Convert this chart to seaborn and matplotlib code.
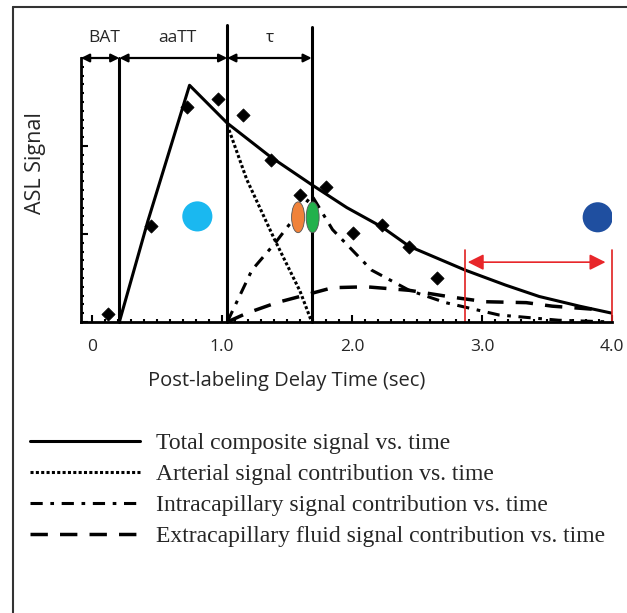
import numpy as np
import pandas as pd
import matplotlib
matplotlib.use("Agg")
import matplotlib.pyplot as plt
import seaborn as sns
from matplotlib.patches import Ellipse
from matplotlib.lines import Line2D
from matplotlib.ticker import MultipleLocator

# ---------------- data ----------------
total_t = [0.21, 0.43, 0.75, 1.04, 1.37, 1.69, 1.96, 2.23, 2.44, 2.87, 3.18, 3.44, 3.75, 4.0]
total_y = [0.0, 1.15, 2.69, 2.26, 1.88, 1.56, 1.30, 1.08, 0.86, 0.59, 0.42, 0.29, 0.18, 0.10]

art_t = [1.04, 1.19, 1.40, 1.60, 1.69]
art_y = [2.24, 1.62, 0.95, 0.35, 0.0]

intra_t = [1.04, 1.23, 1.41, 1.69, 1.85, 2.15, 2.44, 2.72, 3.13, 3.59, 4.0]
intra_y = [0.0, 0.59, 0.90, 1.44, 1.05, 0.59, 0.36, 0.22, 0.08, 0.02, 0.0]

extra_t = [1.04, 1.19, 1.42, 1.65, 1.85, 2.11, 2.44, 2.78, 3.03, 3.34, 3.54, 3.90]
extra_y = [0.0, 0.10, 0.22, 0.31, 0.39, 0.40, 0.36, 0.28, 0.23, 0.22, 0.18, 0.14]

pts_t = [0.12, 0.45, 0.73, 0.97, 1.16, 1.38, 1.60, 1.80, 2.01, 2.23, 2.44, 2.65]
pts_y = [0.09, 1.09, 2.44, 2.53, 2.35, 1.84, 1.44, 1.53, 1.01, 1.10, 0.85, 0.50]

bat, aatt, tau_end = 0.21, 1.04, 1.69
red_start, red_end, red_y = 2.87, 4.0, 0.68

circle_t = [0.81, 3.89]
circle_y = [1.20, 1.19]
circle_colors = ["#1AB8F0", "#1F4FA0"]

ell_t = [1.585, 1.697]
ell_y = [1.19, 1.19]
ell_colors = ["#F0823A", "#22B14C"]

xticks = [0, 1, 2, 3, 4]
xtick_labels = ["0", "1.0", "2.0", "3.0", "4.0"]

legend_labels = ["Total composite signal vs. time",
                 "Arterial signal contribution vs. time",
                 "Intracapillary signal contribution vs. time",
                 "Extracapillary fluid signal contribution vs. time"]

# ---------------- figure ----------------
sns.set_theme(style="white")
plt.rcParams['font.family'] = ['Open Sans', 'DejaVu Sans']

W, H = 627, 613
fig = plt.figure(figsize=(W / 100, H / 100), dpi=100)
ax = fig.add_axes([81 / W, 1 - 322 / H, (612 - 81) / W, (322 - 58) / H])
x0 = -0.085
ax.set_xlim(x0, 4)
ax.set_ylim(0, 3)

lw = 2.2
sns.lineplot(x=total_t, y=total_y, ax=ax, color="black", lw=lw, sort=False,
             label=legend_labels[0], legend=False)
sns.lineplot(x=art_t, y=art_y, ax=ax, color="black", lw=lw, sort=False,
             linestyle=(0, (1, 0.75)), label=legend_labels[1], legend=False)
sns.lineplot(x=intra_t, y=intra_y, ax=ax, color="black", lw=lw, sort=False,
             linestyle=(0, (4, 2.5, 1.2, 2.5)), label=legend_labels[2], legend=False)
sns.lineplot(x=extra_t, y=extra_y, ax=ax, color="black", lw=lw + 0.3, sort=False,
             linestyle=(0, (5, 3.5)), label=legend_labels[3], legend=False)

sns.scatterplot(x=pts_t, y=pts_y, ax=ax, marker="D", color="black", s=45,
                edgecolor="black", zorder=5, legend=False)

sns.scatterplot(x=circle_t, y=circle_y, ax=ax, hue=circle_colors,
                palette=dict(zip(circle_colors, circle_colors)), s=470,
                edgecolor="none", legend=False, zorder=6)

for t, y, c in zip(ell_t, ell_y, ell_colors):
    ax.add_patch(Ellipse((t, y), 0.1, 0.35, facecolor=c, edgecolor="#555555",
                         lw=0.6, zorder=6))

# vertical timing lines
ax.plot([bat, bat], [0, 3.0], color="black", lw=lw, clip_on=False)
ax.plot([aatt, aatt], [0, 3.37], color="black", lw=lw, clip_on=False)
ax.plot([tau_end, tau_end], [0, 3.35], color="black", lw=lw, clip_on=False)

arrow_kw = dict(arrowstyle="<|-|>", color="black", lw=1.6, mutation_scale=12,
                shrinkA=0, shrinkB=0)
for a, b in [(x0, bat), (bat, aatt), (aatt, tau_end)]:
    ax.annotate("", xy=(b, 3.0), xytext=(a, 3.0), arrowprops=arrow_kw,
                annotation_clip=False)
ax.text((x0 + bat) / 2 + 0.03, 3.23, "BAT", ha="center", va="center", fontsize=12.5)
ax.text((bat + aatt) / 2 + 0.03, 3.23, "aaTT", ha="center", va="center",
        fontsize=12.5)
ax.text((aatt + tau_end) / 2, 3.23, "τ", ha="center", va="center", fontsize=12.5)

# red range
ax.plot([red_start, red_start], [0, 0.82], color="#E02020", lw=1.2)
ax.plot([red_end, red_end], [0, 0.82], color="#E02020", lw=1.2, clip_on=False)
ax.annotate("", xy=(red_end - 0.05, red_y), xytext=(red_start + 0.02, red_y),
            arrowprops=dict(arrowstyle="<|-|>", color="#E8262A", lw=1.2,
                            mutation_scale=24, shrinkA=0, shrinkB=0))

# axes styling
for s in ["top", "right"]:
    ax.spines[s].set_visible(False)
for s in ["left", "bottom"]:
    ax.spines[s].set_color("black")
    ax.spines[s].set_linewidth(2.0)
ax.set_xticks(xticks)
ax.set_xticklabels(xtick_labels, fontsize=12.5)
ax.xaxis.set_minor_locator(MultipleLocator(0.1))
ax.yaxis.set_major_locator(MultipleLocator(1))
ax.yaxis.set_minor_locator(MultipleLocator(0.1))
ax.set_yticklabels([])
ax.tick_params(axis="both", which="major", direction="in", length=5, width=1.5,
               color="black", bottom=True, left=True, pad=12)
ax.tick_params(axis="both", which="minor", direction="in", length=2.5, width=1.5,
               color="black", bottom=True, left=True)
ax.set_xlabel("Post-labeling Delay Time (sec)", fontsize=14.5)
ax.xaxis.set_label_coords((287 - 81) / 531, -(381 - 322) / 264)
ax.set_ylabel("ASL Signal", fontsize=15.5)
ax.yaxis.set_label_coords(-(81 - 35) / 531, (322 - 163) / 264)
ax.xaxis.label.set_va("center")
ax.yaxis.label.set_va("center")
ax.grid(False)

# legend
handles = ax.get_lines()[:4]
fig.legend(handles, legend_labels, loc="upper left",
           bbox_to_anchor=(21 / W, 1 - 423 / H), frameon=False,
           prop={"family": "Liberation Serif", "size": 17},
           handlelength=4.66, handletextpad=0.64, labelspacing=0.40,
           borderaxespad=0)

# figure frame
fig.add_artist(Line2D([13 / W, 13 / W], [0, 1 - 7 / H], transform=fig.transFigure,
                      color="#333333", lw=1.5))
fig.add_artist(Line2D([13 / W, 1], [1 - 7 / H, 1 - 7 / H], transform=fig.transFigure,
                      color="#333333", lw=1.5))

fig.savefig("out.png", dpi=100)
